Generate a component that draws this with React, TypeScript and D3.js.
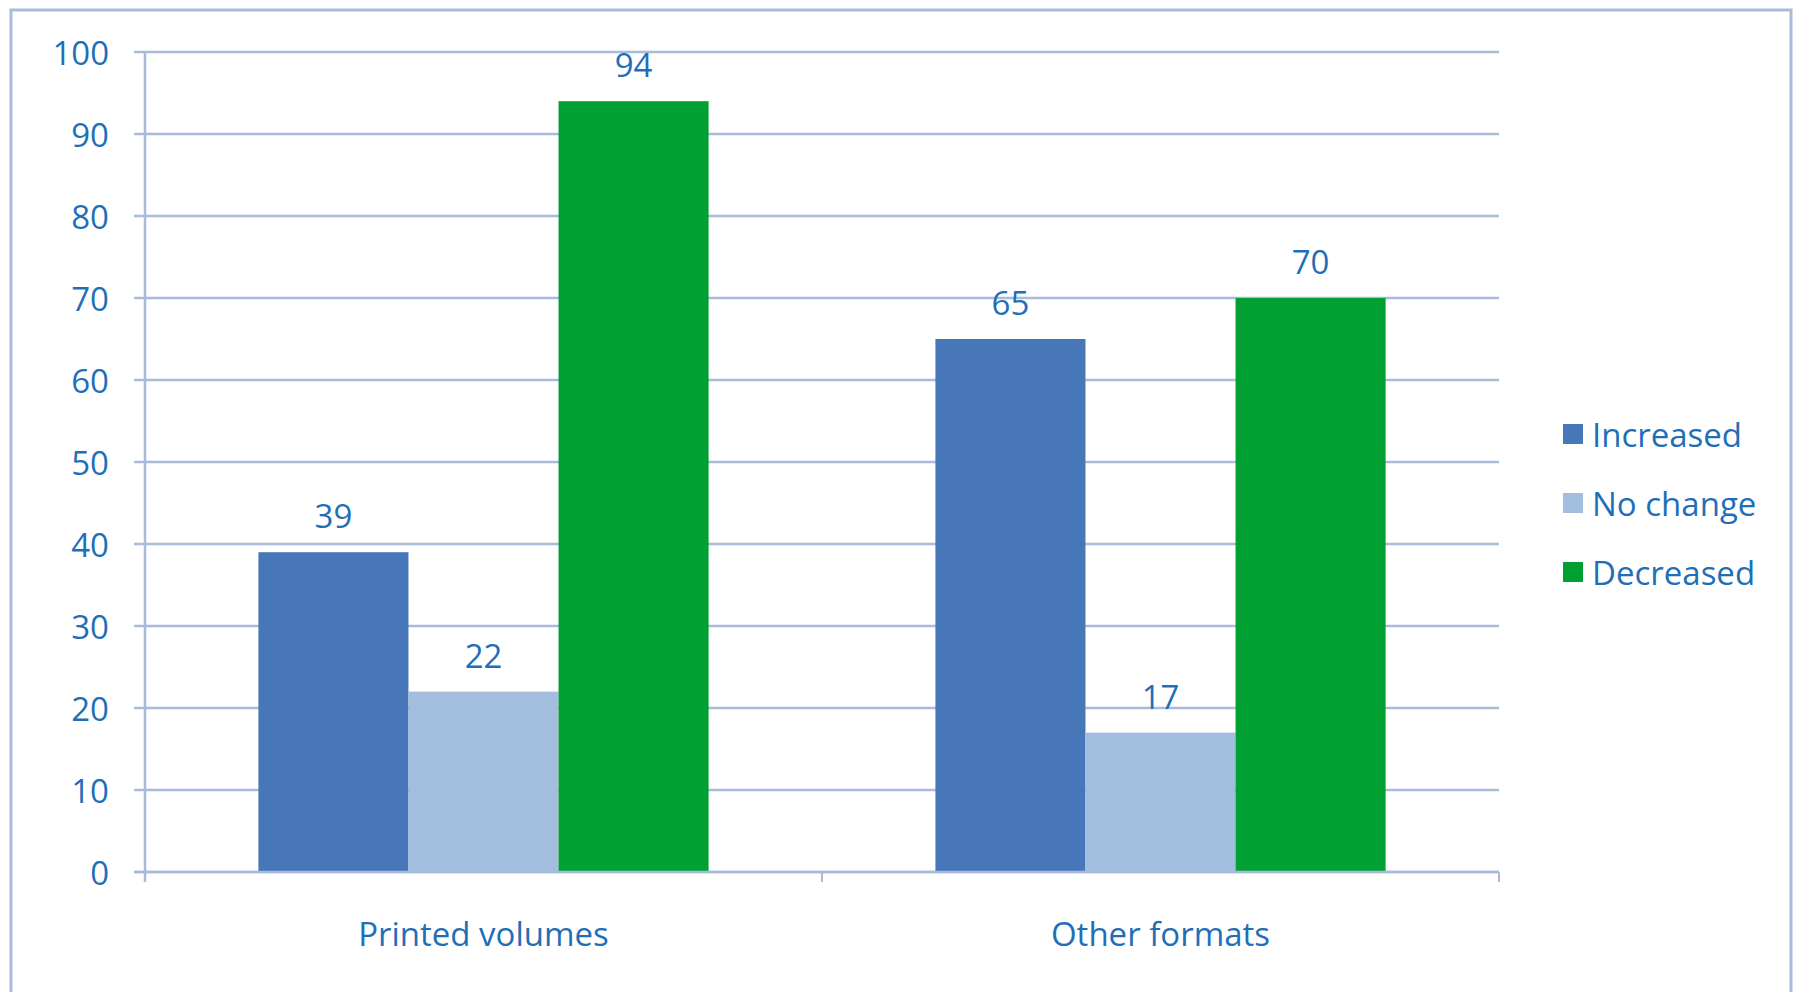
import { useEffect, useRef } from 'react';
import * as d3 from 'd3';

const CATEGORIES = ['Printed volumes', 'Other formats'];
const SERIES = ['Increased', 'No change', 'Decreased'];
const INCREASED = [39, 65];
const NO_CHANGE = [22, 17];
const DECREASED = [94, 70];
const Y_TICKS = [0, 10, 20, 30, 40, 50, 60, 70, 80, 90, 100];

const COLORS = ['#4877b9', '#a2bddd', '#00a032'];
const TEXT = '#1f6fb8';
const GRID = '#a9bbd9';
const FONT = '"Open Sans", Lato, sans-serif';
const FS = 33;

const W = 1800;
const H = 992;

export default function App() {
  const ref = useRef<SVGSVGElement>(null);

  useEffect(() => {
    document.body.style.margin = '0';
    if (!ref.current) return;
    const svg = d3.select(ref.current);
    svg.selectAll('*').remove();

    const margin = { left: 145, right: 301, top: 52, bottom: 120 };
    const x1 = W - margin.right;
    const y0 = H - margin.bottom;

    // outer frame (bottom edge falls off the page)
    svg.append('path')
      .attr('d', `M11,${H + 5} L11,10 L1791,10 L1791,${H + 5}`)
      .attr('fill', 'none')
      .attr('stroke', GRID)
      .attr('stroke-width', 3);

    const y = d3.scaleLinear().domain([0, 100]).range([y0, margin.top]);
    const x0 = d3.scaleBand<string>()
      .domain(CATEGORIES)
      .range([margin.left, x1])
      .paddingInner(0.335)
      .paddingOuter(0.1675);
    const xs = d3.scaleBand<string>().domain(SERIES).range([0, x0.bandwidth()]);

    const g = svg.append('g');

    // gridlines + tick labels
    Y_TICKS.forEach(t => {
      g.append('line')
        .attr('x1', margin.left - 11).attr('x2', x1)
        .attr('y1', y(t)).attr('y2', y(t))
        .attr('stroke', GRID).attr('stroke-width', 2.5);
      g.append('text')
        .attr('x', 109).attr('y', y(t))
        .attr('text-anchor', 'end')
        .attr('dominant-baseline', 'central')
        .attr('fill', TEXT)
        .attr('font-family', FONT)
        .attr('font-size', FS)
        .text(t);
    });

    // y axis
    g.append('line')
      .attr('x1', margin.left).attr('x2', margin.left)
      .attr('y1', margin.top).attr('y2', y0 + 10)
      .attr('stroke', GRID).attr('stroke-width', 2.5);

    // category boundary ticks
    [0, 1, 2].forEach(i => {
      const xx = margin.left + i * ((x1 - margin.left) / 2);
      g.append('line')
        .attr('x1', xx).attr('x2', xx)
        .attr('y1', y0).attr('y2', y0 + 10)
        .attr('stroke', GRID).attr('stroke-width', 2);
    });

    const values = [INCREASED, NO_CHANGE, DECREASED];

    CATEGORIES.forEach((cat, ci) => {
      SERIES.forEach((s, si) => {
        const v = values[si][ci];
        const bx = x0(cat)! + xs(s)!;
        g.append('rect')
          .attr('x', bx)
          .attr('y', y(v))
          .attr('width', xs.bandwidth())
          .attr('height', y0 - y(v))
          .attr('fill', COLORS[si]);
        g.append('text')
          .attr('x', bx + xs.bandwidth() / 2)
          .attr('y', y(v) - 24)
          .attr('text-anchor', 'middle')
          .attr('fill', TEXT)
          .attr('font-family', FONT)
          .attr('font-size', FS)
          .text(v);
      });
      g.append('text')
        .attr('x', x0(cat)! + x0.bandwidth() / 2)
        .attr('y', 946)
        .attr('text-anchor', 'middle')
        .attr('fill', TEXT)
        .attr('font-family', FONT)
        .attr('font-size', FS)
        .text(cat);
    });

    // baseline on top of bars
    g.append('line')
      .attr('x1', margin.left - 11).attr('x2', x1)
      .attr('y1', y0).attr('y2', y0)
      .attr('stroke', GRID).attr('stroke-width', 2.5);

    // legend
    const leg = svg.append('g');
    SERIES.forEach((s, i) => {
      const cy = 434 + i * 69;
      leg.append('rect')
        .attr('x', 1563).attr('y', cy - 10)
        .attr('width', 20).attr('height', 20)
        .attr('fill', COLORS[i]);
      leg.append('text')
        .attr('x', 1592).attr('y', cy)
        .attr('dominant-baseline', 'central')
        .attr('fill', TEXT)
        .attr('font-family', FONT)
        .attr('font-size', FS)
        .text(s);
    });
  }, []);

  return (
    <svg
      ref={ref}
      width={W}
      height={H}
      style={{ display: 'block', background: '#fff' }}
    />
  );
}
